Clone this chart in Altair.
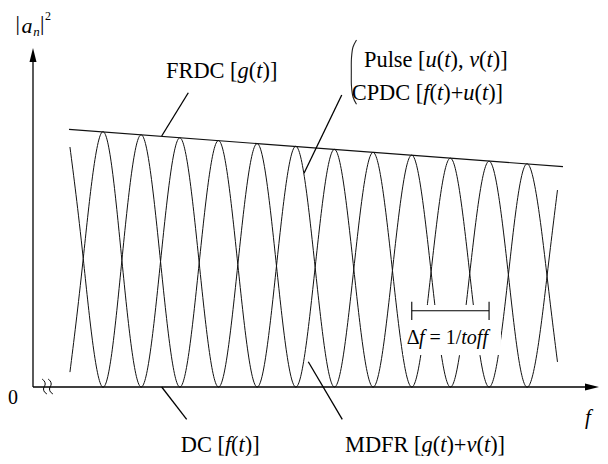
import altair as alt
import pandas as pd

# ---------------- values ----------------
# f : frequency in units of Δf (= 1/toff), a : |a_n|^2 in arbitrary units
lobe_f = [0.9, 1.4, 1.9, 2.4, 2.9, 3.4, 3.9, 4.4, 4.9, 5.4, 5.9, 6.4]
peak_a = [7.53, 7.44, 7.35, 7.27, 7.18, 7.10, 7.01, 6.92, 6.84, 6.75, 6.66, 6.58]
cross_f = [0.65, 1.15, 1.65, 2.15, 2.65, 3.15, 3.65, 4.15, 4.65, 5.15, 5.65, 6.15, 6.65]
cross_a = [3.79, 3.74, 3.70, 3.66, 3.61, 3.57, 3.53, 3.48, 3.44, 3.40, 3.35, 3.31, 3.27]
curve_f_ends = [0.478, 6.785]
curve_a_ends = [0.44, 5.81]   # series peaking at 0.9, 1.9, 2.9, ...
curve_b_ends = [7.08, 0.74]   # series peaking at 1.4, 2.4, 3.4, ...
env_f = [0.466, 6.856]        # FRDC envelope
env_a = [7.60, 6.50]

# ---------------- frame ----------------
W, H = 592, 448
F_DOM = [-0.3234, 7.3351]
A_DOM = [-2.035, 11.180]
PX_F = W / (F_DOM[1] - F_DOM[0])

xs = alt.Scale(domain=F_DOM, nice=False, zero=False)
ys = alt.Scale(domain=A_DOM, nice=False, zero=False)
X = lambda fld="f": alt.X(f"{fld}:Q", scale=xs, axis=None, title=None)
Y = lambda fld="a": alt.Y(f"{fld}:Q", scale=ys, axis=None, title=None)


def curve(parity, ends):
    rows = [dict(f=curve_f_ends[0], a=ends[0])]
    rows += [dict(f=f, a=a) for f, a in zip(cross_f, cross_a)]
    rows += [dict(f=f, a=(a if i % 2 == parity else 0.0))
             for i, (f, a) in enumerate(zip(lobe_f, peak_a))]
    rows.append(dict(f=curve_f_ends[1], a=ends[1]))
    return pd.DataFrame(rows).sort_values("f")


curve_a = curve(0, curve_a_ends)
curve_b = curve(1, curve_b_ends)
envelope = pd.DataFrame({"f": env_f, "a": env_a})

# ---------------- annotation geometry (data units) ----------------
rules = pd.DataFrame([
    # axes
    dict(f=0, a=0, f2=0, a2=9.6, w=1.3),
    dict(f=0, a=0, f2=7.2, a2=0, w=1.3),
    # leader lines
    dict(f=1.665, a=7.404, f2=2.009, a2=8.681, w=1.3),   # FRDC
    dict(f=3.506, a=6.304, f2=3.994, a2=8.614, w=1.3),   # Pulse / CPDC
    dict(f=1.665, a=0.0, f2=1.988, a2=-0.953, w=1.3),    # DC
    dict(f=3.561, a=0.746, f2=4.001, a2=-0.953, w=1.3),  # MDFR
    # Δf bracket
    dict(f=4.9, a=2.25, f2=5.9, a2=2.25, w=1.1),
    dict(f=4.9, a=1.976, f2=4.9, a2=2.516, w=1.1),
    dict(f=5.9, a=1.976, f2=5.9, a2=2.516, w=1.1),
])
mask = pd.DataFrame([dict(f=4.787, f2=6.054, a=0.944, a2=2.419)])
paren = pd.DataFrame({
    "f": [4.185, 4.140, 4.120, 4.118, 4.120, 4.140, 4.185],
    "a": [10.236, 10.029, 9.705, 9.292, 8.879, 8.555, 8.340],
    "o": list(range(7)),
})
# axis-break squiggles
sq_f = [0.117, 0.145, 0.158, 0.136, 0.149, 0.181]
sq_a = [0.236, 0.177, 0.088, -0.059, -0.147, -0.206]
sq_rows = []
for k, df in enumerate([0.0, 0.0776]):
    for j, (f, a) in enumerate(zip(sq_f, sq_a)):
        sq_rows.append(dict(f=f + df, a=a, o=j, k=k))
squiggles = pd.DataFrame(sq_rows)
arrow_up = pd.DataFrame([dict(f=0.0, a=9.794)])
arrow_right = pd.DataFrame([dict(f=7.232, a=0.0)])

# ---------------- text (Times / Liberation Serif metrics) ----------------
W_UP = {' ': 250, '(': 333, ')': 333, '+': 564, ',': 250, '/': 278, '1': 500,
        '=': 564, '[': 333, ']': 333, 'C': 667, 'D': 722, 'F': 556, 'M': 889,
        'P': 556, 'R': 667, 'e': 444, 'l': 278, 's': 389, 'u': 500, 'Δ': 612,
        '0': 500, '|': 200, '2': 500}
W_IT = {'f': 278, 'g': 500, 't': 278, 'u': 500, 'v': 444, 'o': 500, 'a': 500,
        'n': 500}


def segs(parts, f0, a0, fs):
    rows, x = [], f0
    for txt, it in parts:
        wt = W_IT if it else W_UP
        lead = len(txt) - len(txt.lstrip(" "))
        x += lead * wt.get(' ', 250) * fs / 1000 / PX_F
        core = txt.strip(" ")
        rows.append(dict(t=core, f=x, a=a0, fs=fs, it=it))
        rest = txt[lead:]
        x += sum(wt.get(c, 250) for c in rest) * fs / 1000 / PX_F
    return rows


N, I = 0, 1
FS = 22.4
text_rows = []
text_rows += segs([("FRDC [", N), ("g", I), ("(", N), ("t", I), (")]", N)], 1.7206, 9.106, FS)
text_rows += segs([("Pulse [", N), ("u", I), ("(", N), ("t", I), ("), ", N), ("v", I),
                   ("(", N), ("t", I), (")]", N)], 4.282, 9.431, FS)
text_rows += segs([("CPDC [", N), ("f", I), ("(", N), ("t", I), (")+", N), ("u", I),
                   ("(", N), ("t", I), (")]", N)], 4.123, 8.466, FS)
text_rows += segs([("DC [", N), ("f", I), ("(", N), ("t", I), (")]", N)], 1.911, -1.917, FS)
text_rows += segs([("MDFR [", N), ("g", I), ("(", N), ("t", I), (")+", N), ("v", I),
                   ("(", N), ("t", I), (")]", N)], 4.036, -1.917, FS)
text_rows += segs([("Δ", N), ("f", I), (" = 1/", N), ("toff", I)], 4.834, 1.268, 20)
text_rows += segs([("f", I)], 7.141, -1.091, 21)
text_rows += segs([("0", N)], -0.3234, -0.501, 20)
text_rows += segs([("|", N)], -0.2251, 10.531, 22)
text_rows += segs([("a", I)], -0.1488, 10.434, 22)
text_rows += segs([("n", I)], 0.0039, 10.354, 13)
text_rows += segs([("|", N)], 0.0918, 10.531, 22)
text_rows += segs([("2", N)], 0.1552, 10.826, 12)
texts = pd.DataFrame(text_rows)

FONT = "Liberation Serif"

# ---------------- layers ----------------
line_a = alt.Chart(curve_a).mark_line(color="#111", strokeWidth=1.0, interpolate="natural").encode(x=X(), y=Y())
line_b = alt.Chart(curve_b).mark_line(color="#111", strokeWidth=1.0, interpolate="natural").encode(x=X(), y=Y())
mask_l = alt.Chart(mask).mark_rect(color="white").encode(x=X(), x2="f2:Q", y=Y(), y2="a2:Q")
env_l = alt.Chart(envelope).mark_line(color="#111", strokeWidth=1.1).encode(x=X(), y=Y())
rule_l = alt.Chart(rules).mark_rule(color="black").encode(
    x=X(), y=Y(), x2="f2:Q", y2="a2:Q", strokeWidth=alt.StrokeWidth("w:Q", scale=None))
up_l = alt.Chart(arrow_up).mark_point(shape="M0,-1L0.5,1L-0.5,1Z", filled=True, size=196,
                                      color="black", opacity=1).encode(x=X(), y=Y())
right_l = alt.Chart(arrow_right).mark_point(shape="M1,0L-1,0.5L-1,-0.5Z", filled=True, size=196,
                                            color="black", opacity=1).encode(x=X(), y=Y())
paren_l = alt.Chart(paren).mark_line(color="#222", strokeWidth=1.1, interpolate="catmull-rom").encode(
    x=X(), y=Y(), order="o:Q")
sq_l = alt.Chart(squiggles).mark_line(color="black", strokeWidth=1.0, interpolate="catmull-rom").encode(
    x=X(), y=Y(), order="o:Q", detail="k:N")
txt_n = alt.Chart(texts).transform_filter("datum.it == 0").mark_text(
    font=FONT, align="left", baseline="alphabetic", color="black").encode(
    x=X(), y=Y(), text="t:N", size=alt.Size("fs:Q", scale=None))
txt_i = alt.Chart(texts).transform_filter("datum.it == 1").mark_text(
    font=FONT, fontStyle="italic", align="left", baseline="alphabetic", color="black").encode(
    x=X(), y=Y(), text="t:N", size=alt.Size("fs:Q", scale=None))

chart = alt.layer(line_a, line_b, mask_l, env_l, rule_l, up_l, right_l, paren_l, sq_l,
                  txt_n, txt_i).properties(
    width=W, height=H, padding=0, autosize="none", background="white"
).configure_view(stroke=None)

chart.save("out.html", embed_options={"renderer": "svg", "actions": False})
